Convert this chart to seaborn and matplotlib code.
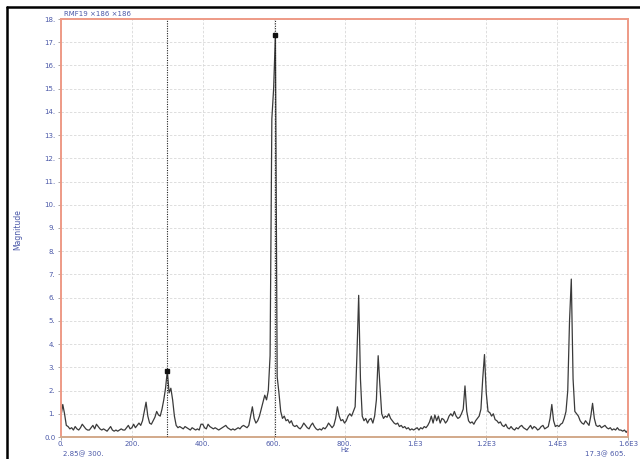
import numpy as np
import pandas as pd
import matplotlib
matplotlib.use("Agg")
import matplotlib.pyplot as plt
from matplotlib.lines import Line2D
import seaborn as sns

# Spectrum magnitude, one value per 5 Hz bin from 0 Hz to 1600 Hz
bin_width_hz = 5
magnitude = [
    # 0 - 95 Hz
    0.9, 1.4, 1.0, 0.5, 0.45, 0.35, 0.4, 0.3, 0.45, 0.35, 0.3, 0.4, 0.55, 0.45, 0.35, 0.3, 0.3, 0.4, 0.5, 0.35,
    # 100 - 195 Hz
    0.55, 0.45, 0.35, 0.3, 0.35, 0.3, 0.25, 0.35, 0.45, 0.3, 0.25, 0.3, 0.25, 0.3, 0.35, 0.3, 0.3, 0.4, 0.5, 0.35,
    # 200 - 295 Hz
    0.4, 0.55, 0.4, 0.5, 0.6, 0.5, 0.7, 1.1, 1.5, 0.9, 0.6, 0.55, 0.7, 0.85, 1.1, 0.95, 0.9, 1.2, 1.6, 2.1,
    # 300 - 395 Hz
    2.85, 1.9, 2.1, 1.6, 0.9, 0.5, 0.4, 0.45, 0.4, 0.35, 0.45, 0.4, 0.35, 0.3, 0.4, 0.35, 0.3, 0.35, 0.3, 0.55,
    # 400 - 495 Hz
    0.55, 0.4, 0.35, 0.55, 0.45, 0.4, 0.35, 0.4, 0.35, 0.3, 0.35, 0.4, 0.45, 0.5, 0.4, 0.35, 0.3, 0.35, 0.3, 0.35,
    # 500 - 595 Hz
    0.4, 0.35, 0.45, 0.5, 0.45, 0.4, 0.5, 0.9, 1.3, 0.8, 0.6, 0.7, 0.9, 1.2, 1.5, 1.8, 1.6, 2.0, 3.5, 13.7,
    # 600 - 695 Hz
    15.0, 17.3, 2.6, 1.9, 1.1, 0.8, 0.9, 0.7, 0.75, 0.6, 0.7, 0.5, 0.45, 0.5, 0.4, 0.35, 0.45, 0.6, 0.5, 0.4,
    # 700 - 795 Hz
    0.35, 0.5, 0.6, 0.45, 0.35, 0.3, 0.35, 0.3, 0.4, 0.35, 0.45, 0.6, 0.5, 0.4, 0.5, 0.8, 1.3, 0.9, 0.7, 0.75,
    # 800 - 895 Hz
    0.6, 0.7, 0.9, 1.0, 0.9, 1.1, 1.3, 3.5, 6.1, 2.5, 0.9, 0.7, 0.8, 0.6, 0.75, 0.8, 0.6, 0.9, 1.6, 3.5,
    # 900 - 995 Hz
    2.2, 1.0, 0.8, 0.9, 0.85, 1.0, 0.8, 0.7, 0.6, 0.55, 0.6, 0.45, 0.5, 0.4, 0.45, 0.35, 0.4, 0.3, 0.35, 0.3,
    # 1000 - 1095 Hz
    0.35, 0.4, 0.3, 0.4, 0.35, 0.45, 0.4, 0.5, 0.65, 0.9, 0.6, 0.95, 0.7, 0.9, 0.6, 0.8, 0.75, 0.6, 0.7, 0.9,
    # 1100 - 1195 Hz
    1.0, 0.9, 1.1, 0.9, 0.8, 0.85, 1.0, 1.2, 2.2, 1.1, 0.7, 0.6, 0.65, 0.55, 0.7, 0.8, 0.9, 1.2, 2.5, 3.55,
    # 1200 - 1295 Hz
    1.9, 1.1, 1.05, 0.9, 1.0, 0.75, 0.7, 0.6, 0.65, 0.5, 0.45, 0.55, 0.4, 0.35, 0.45, 0.35, 0.3, 0.4, 0.35, 0.45,
    # 1300 - 1395 Hz
    0.5, 0.4, 0.35, 0.3, 0.4, 0.5, 0.35, 0.45, 0.4, 0.3, 0.35, 0.45, 0.5, 0.35, 0.4, 0.45, 0.8, 1.4, 0.7, 0.45,
    # 1400 - 1495 Hz
    0.5, 0.45, 0.55, 0.6, 0.8, 1.1, 2.0, 5.0, 6.8, 2.5, 1.1, 1.0, 0.9, 0.7, 0.6, 0.55, 0.7, 0.6, 0.5, 0.9,
    # 1500 - 1600 Hz
    1.45, 0.8, 0.5, 0.45, 0.5, 0.4, 0.45, 0.5, 0.4, 0.35, 0.4, 0.3, 0.35, 0.3, 0.4, 0.3, 0.3, 0.25, 0.3, 0.2,
    0.3,
]
frequency = np.arange(len(magnitude)) * bin_width_hz

# Cursor readouts (frequency in Hz, magnitude)
cursor_freq = [300, 605]
cursor_mag = [2.85, 17.3]
cursor_text = ["2.85@ 300.", "17.3@ 605."]

x_ticks = [0, 200, 400, 600, 800, 1000, 1200, 1400, 1600]
x_tick_labels = ["0.", "200.", "400.", "600.", "800.", "1.E3", "1.2E3", "1.4E3", "1.6E3"]
y_ticks = list(range(0, 19))
y_tick_labels = ["0.0"] + [f"{v}." for v in range(1, 19)]

header_text = "RMF19 \u00d7186 \u00d7186"

df = pd.DataFrame({"Hz": frequency, "Magnitude": magnitude})

sns.set_style("white")
plt.rcParams["font.family"] = ["DejaVu Sans"]

label_blue = "#4a58a8"
salmon = "#ee9a86"

fig = plt.figure(figsize=(6.4, 4.59), dpi=100)
ax = fig.add_axes([61 / 640, 1 - 437 / 459, (628 - 61) / 640, (437 - 19) / 459])

sns.lineplot(data=df, x="Hz", y="Magnitude", ax=ax, color="#3a3a3a", linewidth=0.9)

# cursors
for f, m in zip(cursor_freq, cursor_mag):
    ax.axvline(f, color="#222222", linestyle=(0, (1, 1.2)), linewidth=0.8, zorder=3)
    ax.plot([f], [m], marker="s", markersize=3.5, color="#111111", zorder=4)

ax.set_xlim(0, 1600)
ax.set_ylim(0, 18)
ax.set_xticks(x_ticks)
ax.set_xticklabels(x_tick_labels)
ax.set_yticks(y_ticks)
ax.set_yticklabels(y_tick_labels)
ax.tick_params(axis="both", labelsize=5, labelcolor=label_blue, length=2,
               width=0.6, color="#999999", direction="out")
ax.tick_params(axis="x", bottom=True, pad=1)
ax.tick_params(axis="y", left=True, pad=2)

ax.grid(True, color="#d8d8d8", linestyle=(0, (3, 2)), linewidth=0.6)
ax.set_axisbelow(True)

for side in ["left", "top", "right"]:
    ax.spines[side].set_color(salmon)
    ax.spines[side].set_linewidth(1.4)
ax.spines["bottom"].set_color("#d2a98a")
ax.spines["bottom"].set_linewidth(1.4)

ax.set_xlabel("Hz", fontsize=5, color=label_blue, labelpad=0)
ax.set_ylabel("")
fig.text(18 / 640, 1 - 230 / 459, "Magnitude", rotation=90, fontsize=5.5,
         color=label_blue, ha="center", va="center")

fig.text(63 / 640, 1 - 454 / 459, cursor_text[0], fontsize=5, color=label_blue,
         ha="left", va="center")
fig.text(626 / 640, 1 - 454 / 459, cursor_text[1], fontsize=5, color=label_blue,
         ha="right", va="center")
fig.text(64 / 640, 1 - 14 / 459, header_text, fontsize=5, color=label_blue,
         ha="left", va="center")

# outer frame on left and top edges
fig.add_artist(Line2D([7 / 640, 7 / 640], [0, 1 - 7 / 459], transform=fig.transFigure,
                      color="black", linewidth=1.8))
fig.add_artist(Line2D([7 / 640, 1], [1 - 7 / 459, 1 - 7 / 459], transform=fig.transFigure,
                      color="black", linewidth=1.8))

fig.savefig("out.png", dpi=100)
